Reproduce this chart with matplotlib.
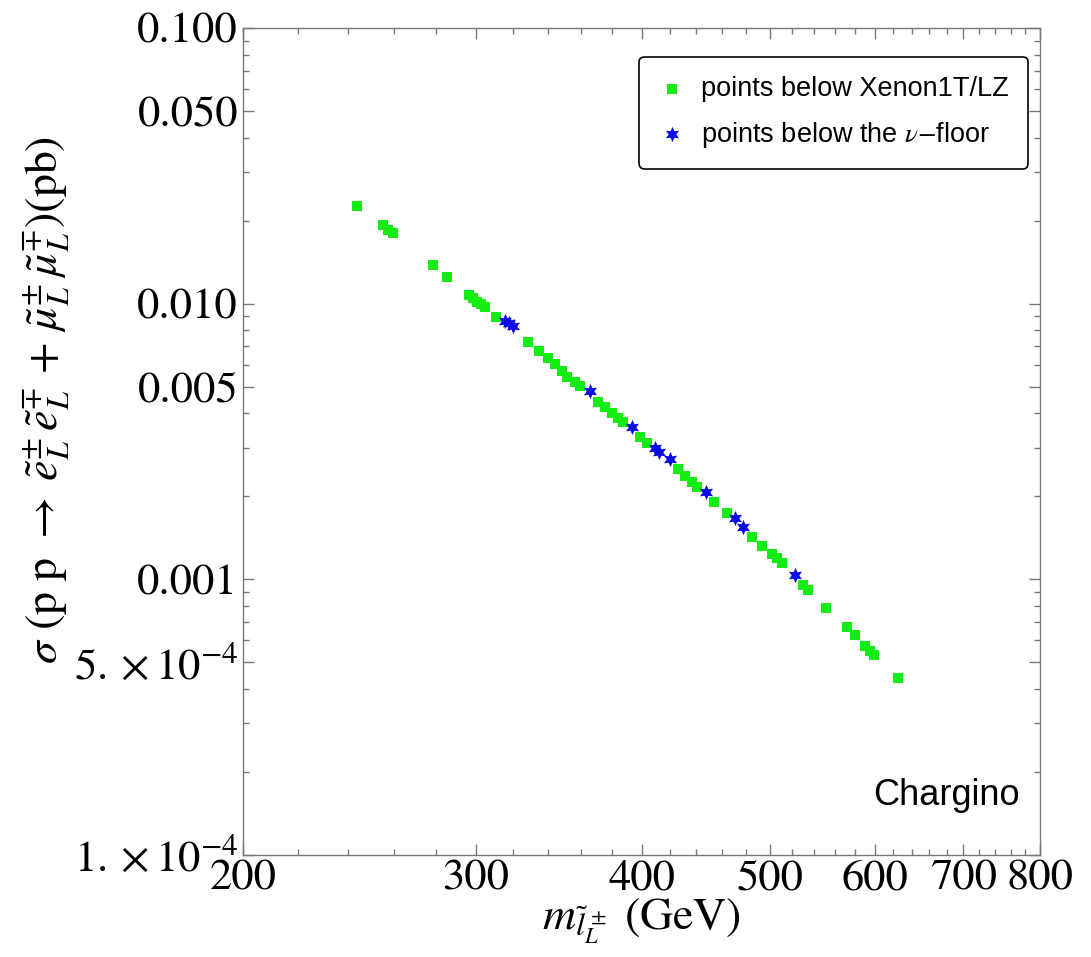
import numpy as np
import matplotlib
matplotlib.use("Agg")
import matplotlib.pyplot as plt
from matplotlib.ticker import FixedLocator, FixedFormatter, NullFormatter

plt.rcParams['mathtext.fontset'] = 'stix'
plt.rcParams['font.family'] = ['STIXGeneral', 'DejaVu Serif']

# points below Xenon1T/LZ (green squares)
green_m = [243.8, 255.0, 257.3, 259.6, 278.3, 285.1, 296.3, 298.4, 300.5, 302.6,
           304.7, 310.6, 328.4, 334.8, 340.0, 344.1, 348.3, 351.4, 356.3, 359.3,
           370.7, 375.3, 379.9, 383.9, 387.3, 398.9, 403.7, 426.1, 431.3, 436.6,
           440.4, 453.6, 464.1, 484.7, 493.2, 501.8, 506.2, 510.6, 529.7, 534.2,
           551.2, 571.7, 579.7, 589.9, 595.1, 599.2, 624.6]
green_sigma = [0.0226, 0.0193, 0.0185, 0.0181, 0.0138, 0.0125, 0.01075, 0.0105, 0.0101, 0.00997,
               0.00973, 0.00895, 0.00726, 0.00673, 0.00635, 0.00604, 0.00570, 0.00542, 0.00520, 0.00503,
               0.00440, 0.00422, 0.00402, 0.00385, 0.00372, 0.00328, 0.00313, 0.00251, 0.00237, 0.00226,
               0.00216, 0.00191, 0.00174, 0.00143, 0.00132, 0.00124, 0.00120, 0.00115, 0.000954, 0.000915,
               0.000788, 0.000672, 0.000629, 0.000573, 0.000550, 0.000532, 0.000439]

# points below the neutrino floor (blue stars)
blue_m = [315.5, 317.7, 319.9, 365.7, 393.4, 409.4, 412.3, 420.2, 447.4, 470.6, 477.2, 522.4]
blue_sigma = [0.00866, 0.00851, 0.00830, 0.00482, 0.00357, 0.00300, 0.00290, 0.00273,
              0.00208, 0.00167, 0.00155, 0.00104]

xticks = [200, 300, 400, 500, 600, 700, 800]
yticks = [1e-4, 5e-4, 1e-3, 5e-3, 1e-2, 5e-2, 1e-1]
ylabels = [r'$1.\times10^{-4}$', r'$5.\times10^{-4}$', '0.001', '0.005', '0.010', '0.050', '0.100']

fig = plt.figure(figsize=(10.91, 9.57), dpi=100)
ax = fig.add_axes([0.2227, 0.1066, 0.7306, 0.8641])

ax.scatter(green_m, green_sigma, marker='s', s=58, color='#12ee12', linewidths=0,
           label='points below Xenon1T/LZ', zorder=2)
ax.scatter(blue_m, blue_sigma, marker=(6, 1, 0), s=120, color='#0a0ae6', linewidths=0,
           label=r'points below the $\nu$$-$floor', zorder=3)

ax.set_xscale('log')
ax.set_yscale('log')
ax.set_xlim(200, 800)
ax.set_ylim(1e-4, 0.1)

ax.xaxis.set_major_locator(FixedLocator(xticks))
ax.xaxis.set_major_formatter(FixedFormatter([str(v) for v in xticks]))
ax.xaxis.set_minor_locator(FixedLocator([v for v in range(220, 800, 20) if v % 100 != 0]))
ax.xaxis.set_minor_formatter(NullFormatter())

ax.yaxis.set_major_locator(FixedLocator(yticks))
ax.yaxis.set_major_formatter(FixedFormatter(ylabels))
yminor = []
for dec in [1e-4, 1e-3, 1e-2]:
    for k in [2, 3, 4, 6, 7, 8, 9]:
        yminor.append(k * dec)
ax.yaxis.set_minor_locator(FixedLocator(yminor))
ax.yaxis.set_minor_formatter(NullFormatter())

ax.tick_params(which='both', direction='in', top=True, right=True, colors='#777777',
               labelcolor='black', labelsize=32, width=1)
ax.tick_params(which='major', length=8)
ax.tick_params(which='minor', length=4)
for sp in ax.spines.values():
    sp.set_color('#777777')
    sp.set_linewidth(1)

ax.set_xlabel(r'$m_{\tilde{l}^{\,\pm}_{L}}$ (GeV)', fontsize=33)
ax.set_ylabel(r'$\sigma$ (p p $\rightarrow\; \tilde{e}^{\pm}_{L}\,\tilde{e}^{\mp}_{L}$ + '
              r'$\tilde{\mu}^{\pm}_{L}\,\tilde{\mu}^{\mp}_{L}$)(pb)', fontsize=33)
ax.yaxis.set_label_coords(-0.215, 0.55)
ax.xaxis.set_label_coords(0.5, -0.05)

leg = ax.legend(loc='upper right', bbox_to_anchor=(0.985, 0.965), frameon=True, fancybox=True,
                edgecolor='black', framealpha=1, borderpad=0.7, handlelength=1.0,
                handletextpad=0.6, labelspacing=0.65, borderaxespad=0,
                prop={'family': ['Liberation Sans', 'DejaVu Sans'], 'size': 19.5})
leg.get_frame().set_linewidth(1.2)

ax.text(0.975, 0.06, 'Chargino', transform=ax.transAxes, ha='right', va='baseline',
        fontsize=26, family=['Liberation Sans', 'DejaVu Sans'])

plt.savefig('out.png', dpi=100)
